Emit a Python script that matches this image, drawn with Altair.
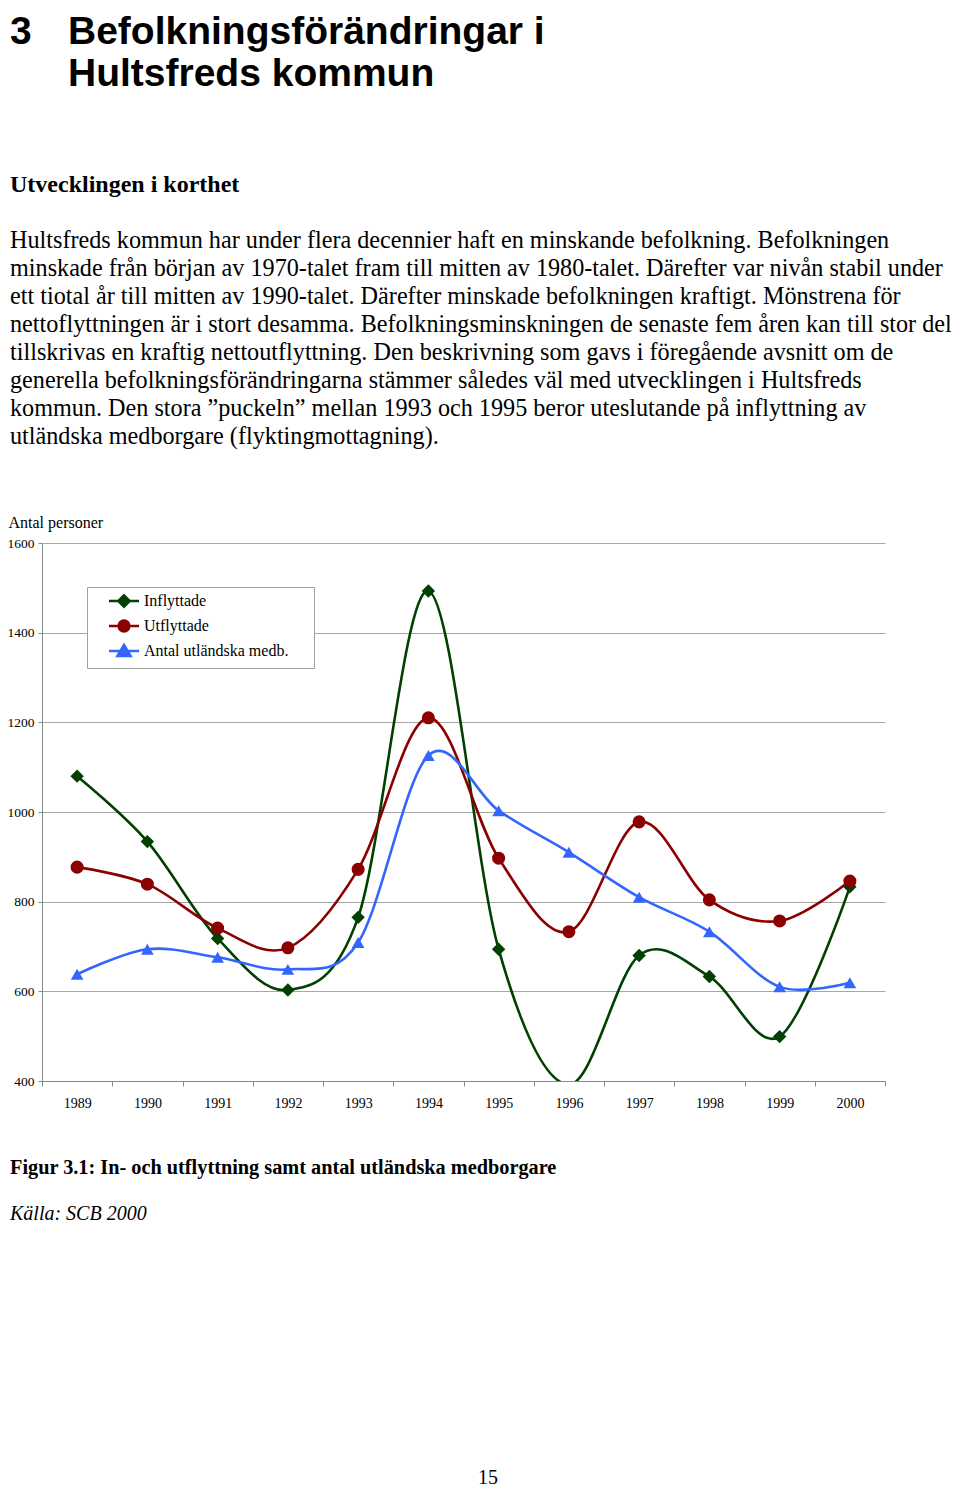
import altair as alt
import pandas as pd

# ---------------- data ----------------
years = ["1989", "1990", "1991", "1992", "1993", "1994",
         "1995", "1996", "1997", "1998", "1999", "2000"]
inflyttade = [1080, 934, 718, 603, 765, 1493, 694, 392, 680, 633, 499, 833]
utflyttade = [877, 839, 741, 697, 872, 1210, 897, 733, 978, 804, 757, 846]
utlandska = [638, 694, 676, 649, 709, 1126, 1003, 910, 810, 733, 610, 619]
series_names = ["Inflyttade", "Utflyttade", "Antal utländska medb."]
y_ticks = [400, 600, 800, 1000, 1200, 1400, 1600]

heading_num = "3"
heading_lines = ["Befolkningsförändringar i", "Hultsfreds kommun"]
subheading = "Utvecklingen i korthet"
paragraph_lines = [
    "Hultsfreds kommun har under flera decennier haft en minskande befolkning. Befolkningen",
    "minskade från början av 1970-talet fram till mitten av 1980-talet. Därefter var nivån stabil under",
    "ett tiotal år till mitten av 1990-talet. Därefter minskade befolkningen kraftigt. Mönstrena för",
    "nettoflyttningen är i stort desamma. Befolkningsminskningen de senaste fem åren kan till stor del",
    "tillskrivas en kraftig nettoutflyttning. Den beskrivning som gavs i föregående avsnitt om de",
    "generella befolkningsförändringarna stämmer således väl med utvecklingen i Hultsfreds",
    "kommun. Den stora \u201dpuckeln\u201d mellan 1993 och 1995 beror uteslutande på inflyttning av",
    "utländska medborgare (flyktingmottagning).",
]
caption = "Figur 3.1: In- och utflyttning samt antal utländska medborgare"
source = "Källa: SCB 2000"
page_no = "15"
y_title = "Antal personer"

# ---------------- styles ----------------
colors = ["#004000", "#8b0000", "#3366ff"]
point_shapes = ["diamond", "circle", "triangle-up"]
point_sizes = [180, 160, 190]
legend_paths = [
    "M-2.5,0H2.5M0,-0.95L0.95,0L0,0.95L-0.95,0Z M29.7,0",
    "M-2.5,0H2.5M0.9,0A0.9,0.9,0,1,1,-0.9,0A0.9,0.9,0,1,1,0.9,0Z M29.7,0",
    "M-2.5,0H2.5M0,-1L1.1,0.85L-1.1,0.85Z M29.7,0",
]
SERIF = "Liberation Serif"
SANS = "Liberation Sans"
GRID = "#a6a6a6"

rows = []
for name, vals in zip(series_names, [inflyttade, utflyttade, utlandska]):
    for yr, v in zip(years, vals):
        rows.append({"year": yr, "serie": name, "value": v})
df = pd.DataFrame(rows)

x_enc = alt.X(
    "year:O", sort=years,
    scale=alt.Scale(type="band", domain=years, paddingInner=0, paddingOuter=0),
    axis=alt.Axis(title=None, labelAngle=0, labelFont=SERIF, labelFontSize=14,
                  labelColor="black", tickBand="extent", tickSize=5,
                  tickColor="#888888", domainColor="#888888", labelPadding=10,
                  grid=False),
)
y_enc = alt.Y(
    "value:Q",
    scale=alt.Scale(domain=[400, 1600], nice=False, zero=False),
    axis=alt.Axis(values=y_ticks, format="d", grid=True, gridColor=GRID,
                  domainColor="#888888", tickColor="#888888", tickSize=4,
                  labelFont=SERIF, labelFontSize=13.5, labelColor="black",
                  labelPadding=4, title=y_title, titleAngle=0,
                  titleAlign="left", titleBaseline="middle", titleX=-34, titleY=-21,
                  titleFont=SERIF, titleFontSize=16, titleFontWeight="normal",
                  titleColor="black"),
)

base = alt.Chart(df)

lines = base.mark_line(interpolate="cardinal", strokeWidth=2.6, clip=True).encode(
    x=x_enc, y=y_enc,
    stroke=alt.Stroke("serie:N", scale=alt.Scale(domain=series_names, range=colors), legend=None),
)

points = base.transform_filter("datum.value >= 400").mark_point(
    filled=True, opacity=1, clip=True
).encode(
    x=x_enc, y=y_enc,
    fill=alt.Fill("serie:N", scale=alt.Scale(domain=series_names, range=colors), legend=None),
    shape=alt.Shape("serie:N", scale=alt.Scale(domain=series_names, range=point_shapes), legend=None),
    size=alt.Size("serie:N", scale=alt.Scale(domain=series_names, range=point_sizes), legend=None),
)

leg = dict(title=None, orient="none", legendX=45, legendY=44, padding=6,
           strokeColor="#a0a0a0", fillColor="white", symbolSize=144,
           symbolStrokeWidth=2.5, symbolOffset=23, labelOffset=12,
           labelFont=SERIF, labelFontSize=16, labelColor="black",
           rowPadding=3, labelLimit=400)

legend_layer = base.transform_filter("false").mark_point(
    filled=True, opacity=1, strokeWidth=2.5
).encode(
    x=x_enc, y=y_enc,
    fill=alt.Fill("serie:N", scale=alt.Scale(domain=series_names, range=colors), legend=alt.Legend(**leg)),
    stroke=alt.Stroke("serie:N", scale=alt.Scale(domain=series_names, range=colors), legend=alt.Legend(**leg)),
    shape=alt.Shape("serie:N", scale=alt.Scale(domain=series_names, range=legend_paths), legend=alt.Legend(**leg)),
)

# plot origin is at page (42, 543)
OX, OY = 42, 543


def text_layer(text, x, y, size, font, weight="normal", style="normal", align="left", lh=None):
    kw = dict(align=align, baseline="alphabetic", font=font, fontSize=size,
              fontWeight=weight, fontStyle=style, color="black")
    if lh is not None:
        kw["lineHeight"] = lh
    return alt.Chart(pd.DataFrame({"k": [0]})).mark_text(**kw).encode(
        x=alt.value(x - OX), y=alt.value(y - OY), text=alt.value(text)
    )


texts = [
    text_layer(heading_num, 10, 44, 39, SANS, weight="bold"),
    text_layer(heading_lines, 68, 44, 39, SANS, weight="bold", lh=42),
    text_layer(subheading, 10, 192, 24, SERIF, weight="bold"),
    text_layer(paragraph_lines, 10, 248, 24.2, SERIF, lh=28),
    text_layer(caption, 10, 1174, 20.3, SERIF, weight="bold"),
    text_layer(source, 10, 1220, 20, SERIF, style="italic"),
    text_layer(page_no, 488, 1484, 20, SERIF, align="center"),
]

chart = alt.layer(lines, points, legend_layer, *texts).resolve_scale(
    fill="independent", stroke="independent", shape="independent", size="independent"
).properties(
    width=843, height=538,
    autosize=alt.AutoSizeParams(type="none"),
    padding={"left": 34, "top": 535, "right": 67, "bottom": 410},
    background="white",
).configure_view(stroke=None)

chart.save("out.html", embed_options={"renderer": "svg", "actions": False})
